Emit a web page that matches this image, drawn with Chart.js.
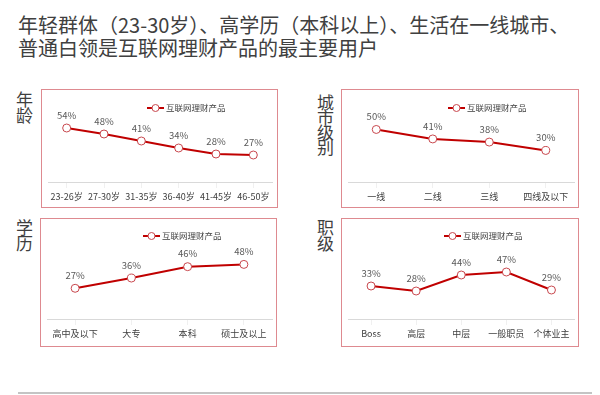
<!DOCTYPE html>
<html>
<head>
<meta charset="utf-8">
<script src="https://cdn.jsdelivr.net/npm/chart.js@4/dist/chart.umd.min.js"></script>
<style>
    body {
        margin: 0;
        width: 600px;
        height: 395px;
        background: #fff;
        position: relative;
        overflow: hidden;
        font-family: "Noto Sans CJK SC", "Noto Sans", sans-serif;
        color: #404040;
    }

    .title {
        position: absolute;
        left: 18px;
        top: 13px;
        font-size: 20px;
        line-height: 23px;
        color: #404040;
        white-space: nowrap;
    }

    .side {
        position: absolute;
        width: 17px;
        font-size: 17px;
        line-height: 16px;
        color: #3f3f3f;
    }

    .box {
        position: absolute;
    }

    .box canvas {
        position: absolute;
        left: 0;
        top: 0;
    }

    .frame {
        position: absolute;
        left: 0;
        top: 0;
        right: 0;
        bottom: 0;
        border: 1.5px solid #de8a90;
        box-sizing: border-box;
        pointer-events: none;
    }

    .bottomline {
        position: absolute;
        left: 18px;
        top: 392px;
        width: 574px;
        height: 2px;
        background: #c4c4c4;
    }
</style>
</head>
<body>
<div class="title">年轻群体（23-30岁）、高学历（本科以上）、生活在一线城市、<br>普通白领是互联网理财产品的最主要用户</div>

<div class="side" style="left:16px;top:91px">年龄</div>
<div class="side" style="left:317px;top:94px;line-height:15px">城市级别</div>
<div class="side" style="left:16px;top:219px">学历</div>
<div class="side" style="left:317px;top:219px">职级</div>

<div class="box" style="left:41px;top:89px;width:237px;height:119px">
    <canvas id="age" width="237" height="119"></canvas>
    <div class="frame"></div>
</div>
<div class="box" style="left:341px;top:89px;width:238px;height:119px">
    <canvas id="city" width="238" height="119"></canvas>
    <div class="frame"></div>
</div>
<div class="box" style="left:40px;top:218px;width:237px;height:129px">
    <canvas id="edu" width="237" height="129"></canvas>
    <div class="frame"></div>
</div>
<div class="box" style="left:341px;top:218px;width:238px;height:129px">
    <canvas id="job" width="238" height="129"></canvas>
    <div class="frame"></div>
</div>

<div class="bottomline"></div>

<script>
    // данные
    let seriesName = '互联网理财产品';

    let ageLabels = ['23-26岁', '27-30岁', '31-35岁', '36-40岁', '41-45岁', '46-50岁'];
    let ageValues = [54, 48, 41, 34, 28, 27];

    let cityLabels = ['一线', '二线', '三线', '四线及以下'];
    let cityValues = [50, 41, 38, 30];

    let eduLabels = ['高中及以下', '大专', '本科', '硕士及以上'];
    let eduValues = [27, 36, 46, 48];

    let jobLabels = ['Boss', '高层', '中层', '一般职员', '个体业主'];
    let jobValues = [33, 28, 44, 47, 29];

    let FONT = '"Noto Sans CJK SC", "Noto Sans", sans-serif';
    let LINE_RED = '#c00000';
    let POINT_RED = '#c8474d';

    // подписи над точками
    let valueLabels = {
        id: 'valueLabels',
        afterDatasetsDraw(chart) {
            let ctx = chart.ctx;
            ctx.save();
            ctx.font = '9.5px ' + FONT;
            ctx.fillStyle = '#595959';
            ctx.textAlign = 'center';
            ctx.textBaseline = 'middle';
            chart.data.datasets.forEach((ds, i) => {
                chart.getDatasetMeta(i).data.forEach((pt, j) => {
                    ctx.fillText(ds.data[j] + '%', pt.x, pt.y - 13);
                });
            });
            ctx.restore();
        }
    };

    // легенда: линия с кружком
    let lineLegend = {
        id: 'lineLegend',
        afterDraw(chart, args, opts) {
            let ctx = chart.ctx;
            let ds = chart.data.datasets[0];
            let x = opts.x, y = opts.y;
            ctx.save();
            ctx.strokeStyle = ds.borderColor;
            ctx.lineWidth = 2;
            ctx.beginPath();
            ctx.moveTo(x, y);
            ctx.lineTo(x + 17, y);
            ctx.stroke();
            ctx.beginPath();
            ctx.arc(x + 8.5, y, 3.5, 0, Math.PI * 2);
            ctx.fillStyle = '#fff';
            ctx.fill();
            ctx.lineWidth = 1;
            ctx.strokeStyle = ds.pointBorderColor;
            ctx.stroke();
            ctx.font = '8.5px ' + FONT;
            ctx.fillStyle = '#404040';
            ctx.textBaseline = 'middle';
            ctx.fillText(ds.label, x + 19, y);
            ctx.restore();
        }
    };

    function makeChart(id, labels, values, opt) {
        return new Chart(document.getElementById(id), {
            type: 'line',
            data: {
                labels: labels,
                datasets: [{
                    label: seriesName,
                    data: values,
                    borderColor: LINE_RED,
                    borderWidth: 2,
                    pointRadius: 4,
                    pointBorderWidth: 1,
                    pointBorderColor: POINT_RED,
                    pointBackgroundColor: '#fff',
                    tension: 0,
                    clip: false
                }]
            },
            options: {
                responsive: false,
                animation: false,
                devicePixelRatio: 1,
                layout: {
                    padding: { top: 10, left: opt.left, right: opt.right, bottom: 0 }
                },
                plugins: {
                    legend: { display: false },
                    tooltip: { enabled: false },
                    lineLegend: { x: opt.legX, y: opt.legY }
                },
                scales: {
                    x: {
                        offset: true,
                        border: { display: true, color: '#d9d9d9', width: 1 },
                        grid: {
                            display: true,
                            drawOnChartArea: false,
                            drawTicks: true,
                            tickLength: 6,
                            color: '#f0f0f0'
                        },
                        ticks: {
                            padding: 3,
                            maxRotation: 0,
                            autoSkip: false,
                            color: '#404040',
                            font: { family: FONT, size: 9 }
                        },
                        afterFit: s => { s.height = opt.axisH; }
                    },
                    y: {
                        display: false,
                        min: 0,
                        max: opt.max
                    }
                }
            },
            plugins: [valueLabels, lineLegend]
        });
    }

    makeChart('age', ageLabels, ageValues, { left: 7, right: 6, max: 83, axisH: 26, legX: 106, legY: 19 });
    makeChart('city', cityLabels, cityValues, { left: 7, right: 5, max: 79, axisH: 26, legX: 107, legY: 19 });
    makeChart('edu', eduLabels, eduValues, { left: 7, right: 5, max: 80, axisH: 28, legX: 103, legY: 18 });
    makeChart('job', jobLabels, jobValues, { left: 7.5, right: 4.5, max: 91, axisH: 28, legX: 103, legY: 18 });
</script>
</body>
</html>
